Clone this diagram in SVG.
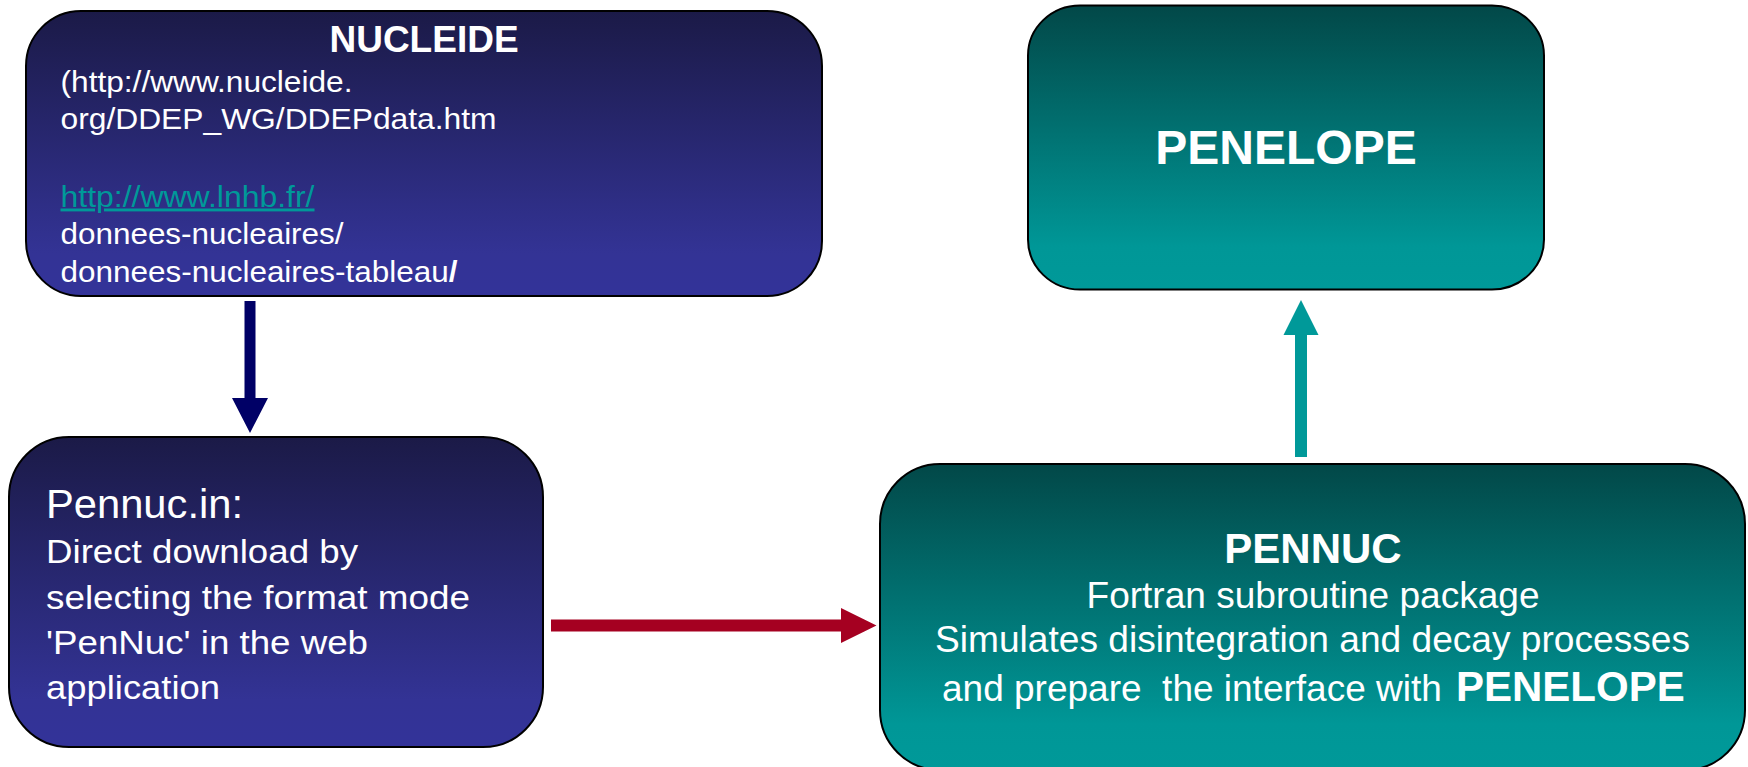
<svg xmlns="http://www.w3.org/2000/svg" width="1748" height="767" viewBox="0 0 1748 767">
<style>
  .box { stroke: #000; stroke-width: 2; }
  .t { font-family: "Liberation Sans", Arial, sans-serif; fill: #fff; }
  .b { font-weight: bold; }
  .pre { white-space: pre; }
</style>
<defs>
  <linearGradient id="navy" x1="0" y1="0" x2="0" y2="1">
    <stop offset="0" stop-color="#1b1a47"/>
    <stop offset="0.85" stop-color="#333395"/>
    <stop offset="1" stop-color="#333399"/>
  </linearGradient>
  <linearGradient id="teal" x1="0" y1="0" x2="0" y2="1">
    <stop offset="0" stop-color="#024848"/>
    <stop offset="0.85" stop-color="#009797"/>
    <stop offset="1" stop-color="#009999"/>
  </linearGradient>
</defs>
<rect width="1748" height="767" fill="#fff"/>

<g id="connectors">
  <path d="M244.5,301 H255.5 V398 H268 L250,433 L232,398 H244.5 Z" fill="#000066"/>
  <path d="M551,619.5 H841 V608 L876.5,625.5 L841,643 V631.5 H551 Z" fill="#a50021"/>
  <path d="M1295,457 V335 H1283.5 L1301,300 L1318.5,335 H1307 V457 Z" fill="#009999"/>
</g>

<g id="nucleide">
  <rect class="box" x="26" y="11" width="796" height="285" rx="55" ry="55" fill="url(#navy)"/>
  <text class="t b" x="424" y="52" font-size="37" text-anchor="middle">NUCLEIDE</text>
  <text class="t" x="60.5" y="91.5" font-size="29" textLength="292" lengthAdjust="spacingAndGlyphs">(http://www.nucleide.</text>
  <text class="t" x="60.5" y="128.5" font-size="29" textLength="436" lengthAdjust="spacingAndGlyphs">org/DDEP_WG/DDEPdata.htm</text>
  <text class="t" x="60.5" y="206.5" font-size="29" textLength="254" lengthAdjust="spacingAndGlyphs" style="fill:#009999" text-decoration="underline">http://www.lnhb.fr/</text>
  <text class="t" x="60.5" y="244" font-size="29" textLength="283" lengthAdjust="spacingAndGlyphs">donnees-nucleaires/</text>
  <text class="t" x="60.5" y="281.5" font-size="29" textLength="397" lengthAdjust="spacingAndGlyphs">donnees-nucleaires-tableau<tspan font-weight="bold">/</tspan></text>
</g>

<g id="pennuc-in">
  <rect class="box" x="9" y="437" width="534" height="310" rx="60" ry="60" fill="url(#navy)"/>
  <text class="t" x="46" y="518" font-size="40" textLength="197" lengthAdjust="spacingAndGlyphs">Pennuc.in:</text>
  <text class="t" x="46" y="563" font-size="34" textLength="312" lengthAdjust="spacingAndGlyphs">Direct download by</text>
  <text class="t" x="46" y="608.5" font-size="34" textLength="424" lengthAdjust="spacingAndGlyphs">selecting the format mode</text>
  <text class="t" x="46" y="654" font-size="34" textLength="322" lengthAdjust="spacingAndGlyphs">'PenNuc' in the web</text>
  <text class="t" x="46" y="699" font-size="34" textLength="174" lengthAdjust="spacingAndGlyphs">application</text>
</g>

<g id="penelope">
  <rect class="box" x="1028" y="5.5" width="516" height="284" rx="52" ry="50" fill="url(#teal)"/>
  <text class="t b" x="1286" y="164" font-size="48" text-anchor="middle">PENELOPE</text>
</g>

<g id="pennuc">
  <rect class="box" x="880" y="464" width="865" height="306" rx="60" ry="60" fill="url(#teal)"/>
  <text class="t b" x="1313" y="563" font-size="42" text-anchor="middle">PENNUC</text>
  <text class="t" x="1086.5" y="608" font-size="37" textLength="453" lengthAdjust="spacingAndGlyphs">Fortran subroutine package</text>
  <text class="t" x="935" y="652" font-size="37" textLength="755" lengthAdjust="spacingAndGlyphs">Simulates disintegration and decay processes</text>
  <text class="t pre" x="942" y="701" font-size="37">and prepare  the interface with <tspan class="b" x="1456" font-size="42">PENELOPE</tspan></text>
</g>
</svg>
